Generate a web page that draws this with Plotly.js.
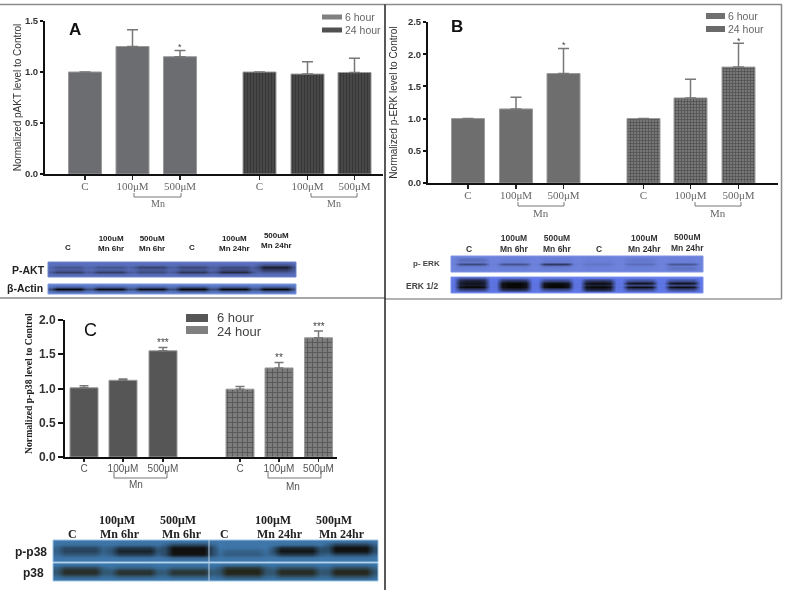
<!DOCTYPE html>
<html>
<head>
<meta charset="utf-8">
<script src="https://cdn.plot.ly/plotly-3.0.1.min.js"></script>
<style>
html,body{margin:0;padding:0;background:#fff}
#plot{width:787px;height:592px;filter:blur(0.45px)}
</style>
</head>
<body>
<div id="plot"></div>
<script>
// ---------- chart data ----------
const doseLabels = ['C', '100μM', '500μM', 'C', '100μM', '500μM'];
const seriesNames = ['6 hour', '24 hour'];

const aktHour6 = [1.0, 1.25, 1.15];
const aktHour6Err = [0, 0.165, 0.06];
const aktHour24 = [1.0, 0.98, 0.995];
const aktHour24Err = [0, 0.12, 0.14];

const erkHour6 = [1.0, 1.15, 1.70];
const erkHour6Err = [0, 0.18, 0.39];
const erkHour24 = [1.0, 1.32, 1.80];
const erkHour24Err = [0, 0.29, 0.37];

const p38Hour6 = [1.01, 1.12, 1.55];
const p38Hour6Err = [0.03, 0.02, 0.05];
const p38Hour24 = [0.99, 1.30, 1.74];
const p38Hour24Err = [0.04, 0.08, 0.10];

// Band density per lane (rows top to bottom, 6 lanes), read from the blots
const blotPAkt = [
  [.02,.02,.02,.02,.02,.10],
  [.04,.04,.08,.10,.08,.35],
  [.28,.28,.48,.42,.40,.85],
  [.18,.15,.22,.25,.35,.55],
  [.52,.55,.40,.62,.75,.25],
  [.10,.10,.08,.14,.15,.05],
  [.02,.02,.02,.02,.02,.02]
];
const blotActin = [
  [.02,.02,.02,.02,.02,.02],
  [.30,.30,.30,.40,.35,.35],
  [1,.95,.95,1,1,1],
  [.30,.25,.25,.35,.30,.30],
  [.02,.02,.02,.02,.02,.02]
];
const blotPErk = [
  [.02,.02,.02,.02,.02,.02],
  [.22,.04,.06,.02,.10,.02],
  [.12,.06,.08,.05,.08,.04],
  [.60,.50,.78,.14,.22,.45],
  [.10,.10,.15,.04,.05,.10],
  [.02,.02,.02,.02,.02,.15],
  [.02,.02,.02,.02,.02,.02]
];
const blotErk = [
  [.30,.10,.04,.02,.02,.02],
  [.80,.65,.45,.60,.35,.35],
  [.90,1,.95,.95,.90,.90],
  [.85,1,1,.80,.45,.45],
  [1,1,1,1,.95,.95],
  [.50,.70,.40,.75,.40,.40],
  [.03,.05,.03,.12,.03,.03]
];
const blotPP38 = [
  [.02,.02,.05,.02,.02,.08],
  [.10,.10,.45,.02,.10,.55],
  [.45,.60,.98,.05,.75,1],
  [.50,.80,1,.22,.95,.95],
  [.30,.55,.95,.28,.60,.45],
  [.04,.06,.20,.05,.06,.05],
  [.02,.02,.02,.02,.02,.02]
];
const blotP38 = [
  [.05,.05,.05,.10,.06,.08],
  [.55,.25,.25,.70,.45,.50],
  [.85,.75,.72,.95,.85,.90],
  [.80,.80,.75,.90,.85,.90],
  [.30,.30,.30,.45,.40,.45],
  [.05,.05,.05,.10,.06,.08]
];
const laneNarrow = [.05, .9, 1, 1, 1, .9, .05];
const laneWide = [.45, 1, 1, 1, 1, 1, .45];

// ---------- page layout helpers ----------
const W = 787, H = 592;
const px = x => x / W;
const py = y => 1 - y / H;
const serif = '"Liberation Serif", serif';
const sans = '"Liberation Sans", Arial, sans-serif';

const traces = [], annotations = [], shapes = [], layout = {};

function note(x, y, text, size, color, family, extra) {
  annotations.push(Object.assign({
    xref: 'paper', yref: 'paper', x: px(x), y: py(y), text: text, showarrow: false,
    xanchor: 'center', yanchor: 'middle', align: 'center',
    font: {size: size, color: color, family: family}
  }, extra || {}));
}
function rule(x0, y0, x1, y1, color, width) {
  shapes.push({type: 'line', xref: 'paper', yref: 'paper',
    x0: px(x0), x1: px(x1), y0: py(y0), y1: py(y1), line: {color: color, width: width}});
}
function box(x0, y0, x1, y1, fill, lineColor) {
  shapes.push({type: 'rect', xref: 'paper', yref: 'paper',
    x0: px(x0), x1: px(x1), y0: py(y0), y1: py(y1), fillcolor: fill,
    line: {color: lineColor || fill, width: lineColor ? 1 : 0}});
}
function bracket(x0, x1, y0, y1) {
  shapes.push({type: 'path', xref: 'paper', yref: 'paper',
    path: `M ${px(x0)} ${py(y0)} L ${px(x0)} ${py(y1)} L ${px(x1)} ${py(y1)} L ${px(x1)} ${py(y0)}`,
    line: {color: '#777', width: 1}});
}

// ---------- bar panels ----------
function barPanel(o) {
  const n = o.idx === 1 ? '' : o.idx;
  const xs = o.centers.map(c => (c - o.left) / o.unit);
  const range = [0, (o.right - o.left) / o.unit];
  const common = {
    type: 'bar', width: o.barPx / o.unit, xaxis: 'x' + n, yaxis: 'y' + n, showlegend: false
  };
  const errBase = {type: 'data', symmetric: false, color: '#777', thickness: 1.5, width: o.cap};
  traces.push(Object.assign({}, common, {
    name: seriesNames[0], x: xs.slice(0, 3), y: o.h6,
    marker: {color: o.fill6, line: {color: '#9a9a9a', width: 1}},
    error_y: Object.assign({}, errBase, {array: o.e6, arrayminus: [0, 0, 0]})
  }));
  traces.push(Object.assign({}, common, {
    name: seriesNames[1], x: xs.slice(3), y: o.h24,
    marker: {color: o.bg24, line: {color: '#9a9a9a', width: 1},
      pattern: {shape: o.shape, fgcolor: o.fg24, bgcolor: o.bg24, size: o.patSize, solidity: o.solidity, fillmode: 'overlay'}},
    error_y: Object.assign({}, errBase, {array: o.e24, arrayminus: [0, 0, 0]})
  }));
  layout['xaxis' + n] = {
    domain: [px(o.left), px(o.right)], range: range, anchor: 'y' + n, fixedrange: true,
    tickmode: 'array', tickvals: xs, ticktext: doseLabels, showgrid: false, zeroline: false,
    showline: true, linecolor: '#111', linewidth: 2, ticks: 'outside', ticklen: o.xtick, tickwidth: 1.5, tickcolor: '#222',
    tickangle: 0, tickfont: o.xfont, ticklabelstandoff: o.xStand
  };
  layout['yaxis' + n] = {
    domain: [py(o.bottom), py(o.top)], range: [0, o.ymax], anchor: 'x' + n, fixedrange: true,
    tickmode: 'array', tickvals: o.yticks, ticktext: o.yticks.map(v => v.toFixed(1)),
    showgrid: false, zeroline: false, showline: true, linecolor: '#111', linewidth: 2,
    ticks: 'outside', ticklen: o.ytick, tickwidth: 2, tickcolor: '#111', tickfont: o.yfont,
    title: o.title ? {text: o.title, font: o.titleFont, standoff: o.standoff} : undefined
  };
  (o.stars || []).forEach(s => annotations.push({
    xref: 'x' + n, yref: 'y' + n, x: xs[s[0]], y: s[1], text: s[2], showarrow: false,
    xanchor: 'center', yanchor: 'bottom', yshift: s[3],
    font: {size: o.starSize, color: '#444', family: sans}
  }));
}

barPanel({
  idx: 1, left: 45, right: 383, top: 21, bottom: 174, ymax: 1.5, unit: 47.5, barPx: 33,
  centers: [85, 132.5, 180, 259.5, 307.5, 354.5],
  h6: aktHour6, e6: aktHour6Err, h24: aktHour24, e24: aktHour24Err,
  fill6: '#6c6d70', bg24: '#4c4c4c', fg24: '#222222', shape: '|', patSize: 3, solidity: .5, cap: 5.5,
  yticks: [0, .5, 1, 1.5], xtick: 4, ytick: 3, xStand: -3,
  xfont: {family: serif, size: 11, color: '#666'},
  yfont: {family: sans, size: 9.5, color: '#333', weight: 700},
  title: 'Normalized pAKT level to Control', titleFont: {family: sans, size: 10, color: '#333'}, standoff: 1,
  stars: [[2, 1.21, '*', -3]], starSize: 9
});
barPanel({
  idx: 2, left: 428, right: 778, top: 22, bottom: 183, ymax: 2.5, unit: 47.7, barPx: 33,
  centers: [468, 516, 563.5, 643.5, 690.5, 738.5],
  h6: erkHour6, e6: erkHour6Err, h24: erkHour24, e24: erkHour24Err,
  fill6: '#6e6e6e', bg24: '#777777', fg24: '#222222', shape: '+', patSize: 3, solidity: .4, cap: 5.5,
  yticks: [0, .5, 1, 1.5, 2, 2.5], xtick: 4, ytick: 3, xStand: -3,
  xfont: {family: serif, size: 11, color: '#666'},
  yfont: {family: sans, size: 9.5, color: '#333', weight: 700},
  title: 'Normalized p-ERK level to Control', titleFont: {family: sans, size: 10, color: '#333'}, standoff: 8,
  stars: [[2, 2.09, '*', -4], [5, 2.17, '*', -5]], starSize: 9
});
barPanel({
  idx: 3, left: 65, right: 337, top: 320, bottom: 457, ymax: 2, unit: 39.3, barPx: 28,
  centers: [84, 123, 163, 240, 279, 318.5],
  h6: p38Hour6, e6: p38Hour6Err, h24: p38Hour24, e24: p38Hour24Err,
  fill6: '#565656', bg24: '#7c7c7c', fg24: '#2c2c2c', shape: '+', patSize: 5, solidity: .3, cap: 4.5,
  yticks: [0, .5, 1, 1.5, 2], xtick: 3, ytick: 5, xStand: -2,
  xfont: {family: sans, size: 10, color: '#555'},
  yfont: {family: sans, size: 12, color: '#333', weight: 700},
  stars: [[2, 1.60, '***', -3], [4, 1.38, '**', -3], [5, 1.84, '***', -3]], starSize: 10
});
note(28, 384, 'Normalized p-p38 level to Control', 9.7, '#222', serif,
  {textangle: -90, font: {size: 9.7, color: '#222', family: serif, weight: 700}});

// ---------- blot panels ----------
function expandBlot(rows, profile) {
  return rows.map(r => {
    const out = [];
    r.forEach(v => profile.forEach(p => out.push(v * p)));
    return out;
  });
}
function blotPanel(idx, rows, profile, x0, y0, x1, y1, bg, band, edge) {
  const z = expandBlot(rows, profile);
  const cols = z[0].length, nrows = z.length;
  traces.push({
    type: 'heatmap', z: z, zmin: 0, zmax: 1, zsmooth: 'best', showscale: false, hoverinfo: 'skip',
    colorscale: [[0, bg], [1, band]], xaxis: 'x' + idx, yaxis: 'y' + idx
  });
  layout['xaxis' + idx] = {domain: [px(x0), px(x1)], range: [-0.5, cols - 0.5], visible: false, anchor: 'y' + idx, fixedrange: true};
  layout['yaxis' + idx] = {domain: [py(y1), py(y0)], range: [nrows - 0.5, -0.5], visible: false, anchor: 'x' + idx, fixedrange: true};
  if (edge) shapes.push({type: 'rect', xref: 'paper', yref: 'paper', layer: 'above',
    x0: px(x0), x1: px(x1), y0: py(y0), y1: py(y1), line: {color: edge, width: 1}});
}
blotPanel(4, blotPAkt, laneWide, 48, 262, 296, 277, '#5a70bf', '#101018', '#6f85cf');
blotPanel(5, blotActin, laneWide, 48, 284, 296, 294, '#5f7fd0', '#08080c', '#7d97dd');
blotPanel(6, blotPErk, laneNarrow, 451, 256, 703, 272, '#6c82dc', '#1c2040', '#8094e4');
blotPanel(7, blotErk, laneNarrow, 451, 277, 703, 293, '#6078ea', '#080806', '#7d92ee');
blotPanel(8, blotPP38, laneWide, 53, 540, 378, 562, '#3f78ac', '#10100e', '#9cc4e4');
blotPanel(9, blotP38, laneWide, 53, 563, 378, 581, '#3b78ae', '#23200f', '#9cc4e4');
rule(209, 540, 209, 581, '#b8d0e4', 1);

// ---------- frames ----------
rule(0, 4.5, 782, 4.5, '#8a8a8a', 1.5);
rule(781.5, 4.5, 781.5, 299, '#8a8a8a', 1.5);
rule(385, 299, 781.5, 299, '#9a9a9a', 1.5);
rule(0, 298, 385, 298, '#8a8a8a', 1.5);
rule(385, 4.5, 385, 590, '#222', 1.5);

// ---------- legends ----------
function legendRow(x0, x1, y, h, fill, text, size, textX, textY, color) {
  box(x0, y - h / 2, x1, y + h / 2, fill);
  note(textX, textY, text, size, color, sans, {xanchor: 'left'});
}
legendRow(322, 342, 17, 5, '#808080', seriesNames[0], 10.5, 343, 17, '#666');
legendRow(322, 342, 30, 5, '#505050', seriesNames[1], 10.5, 343, 30, '#666');
legendRow(706, 725, 16, 6, '#707070', seriesNames[0], 10.5, 726, 16, '#666');
legendRow(706, 725, 29, 6, '#6a6a6a', seriesNames[1], 10.5, 726, 29, '#666');
legendRow(186, 208, 318, 8, '#565656', seriesNames[0], 13, 215, 317, '#444');
legendRow(186, 208, 330, 8, '#808080', seriesNames[1], 13, 215, 331, '#444');

// ---------- panel letters ----------
note(75, 29, 'A', 17, '#111', sans, {font: {size: 17, color: '#111', family: sans, weight: 700}});
note(457, 26, 'B', 17, '#111', sans, {font: {size: 17, color: '#111', family: sans, weight: 700}});
note(90, 330, 'C', 18, '#111', sans);

// ---------- Mn brackets ----------
const mn = 'Mn';
bracket(134, 181, 193, 197); note(158, 203, mn, 10, '#666', serif);
bracket(311, 357, 193, 197); note(334, 203, mn, 10, '#666', serif);
bracket(518, 564, 202, 206); note(541, 213, mn, 11, '#666', serif);
bracket(695, 741, 202, 206); note(718, 213, mn, 11, '#666', serif);
bracket(114, 167, 471, 478); note(136, 484, mn, 10, '#555', sans);
bracket(268, 321, 471, 478); note(293, 486, mn, 10, '#555', sans);

// ---------- blot labels ----------
const ba = {font: {size: 8, color: '#222', family: sans, weight: 700}};
const bb = {font: {size: 8.5, color: '#333', family: sans, weight: 700}};
const lane = (x, y, t, o) => note(x, y, t, 8, '#222', sans, o);
lane(68, 248, 'C', ba);
lane(111, 243, '100uM<br>Mn 6hr', ba);
lane(152, 243, '500uM<br>Mn 6hr', ba);
lane(192, 248, 'C', ba);
lane(235, 243, '100uM<br>Mn 24hr', ba);
lane(276, 241, '500uM<br>Mn 24hr', ba);
note(29, 270, 'P-AKT', 10.5, '#222', sans, {font: {size: 10.5, color: '#222', family: sans, weight: 700}});
note(25, 288, 'β-Actin', 10.5, '#222', sans, {font: {size: 10.5, color: '#222', family: sans, weight: 700}});

lane(469, 249, 'C', bb);
lane(514, 243, '100uM<br>Mn 6hr', bb);
lane(557, 243, '500uM<br>Mn 6hr', bb);
lane(599, 249, 'C', bb);
lane(644, 243, '100uM<br>Mn 24hr', bb);
lane(687, 242, '500uM<br>Mn 24hr', bb);
note(426, 263, 'p- ERK', 8, '#444', sans, {font: {size: 8, color: '#444', family: sans, weight: 700}});
note(422, 286, 'ERK 1/2', 8.5, '#444', sans, {font: {size: 8.5, color: '#444', family: sans, weight: 700}});

const bc = {font: {size: 12, color: '#222', family: serif, weight: 700}};
const lc = (x, y, t) => note(x, y, t, 12, '#222', serif, bc);
lc(72, 534, 'C');
lc(117, 520, '100μM');
lc(120, 534, 'Mn 6hr');
lc(178, 520, '500μM');
lc(182, 534, 'Mn 6hr');
lc(224, 534, 'C');
lc(273, 520, '100μM');
lc(280, 534, 'Mn 24hr');
lc(334, 520, '500μM');
lc(342, 534, 'Mn 24hr');
note(31, 552, 'p-p38', 12, '#222', sans, {font: {size: 12, color: '#222', family: sans, weight: 700}});
note(33, 573, 'p38', 12, '#222', sans, {font: {size: 12, color: '#222', family: sans, weight: 700}});

Object.assign(layout, {
  width: W, height: H, margin: {l: 0, r: 0, t: 0, b: 0, pad: 0},
  paper_bgcolor: '#fff', plot_bgcolor: 'rgba(0,0,0,0)',
  bargap: 0, showlegend: false, annotations: annotations, shapes: shapes, hovermode: false,
  font: {family: sans}
});
Plotly.newPlot('plot', traces, layout, {displayModeBar: false, staticPlot: true});
</script>
</body>
</html>
